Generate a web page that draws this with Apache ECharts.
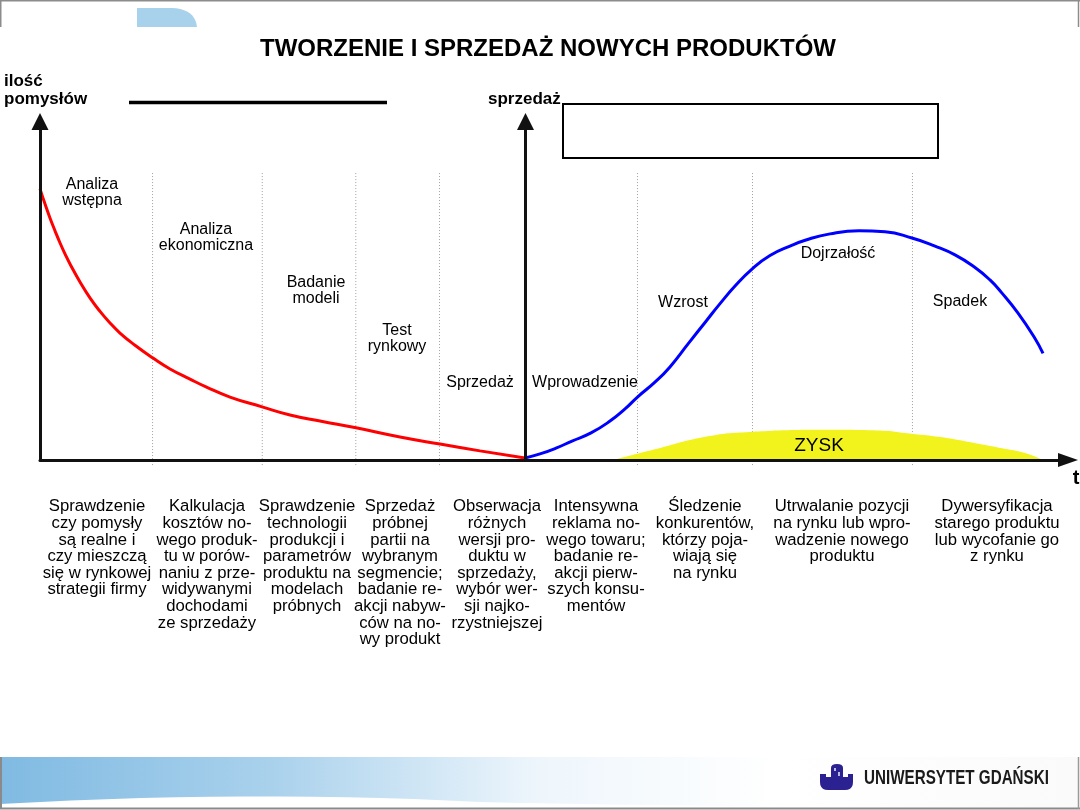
<!DOCTYPE html>
<html><head><meta charset="utf-8">
<script src="https://cdn.jsdelivr.net/npm/echarts@6/dist/echarts.min.js"></script>
<style>html,body{margin:0;padding:0;background:#fff}#c{width:1080px;height:810px}</style>
</head><body><div id="c"></div>
<script>
// ---- data (time t on x, quantity on y, both in 0..100 units) ----
const ideaCurve = [[0,80.1],[0.49,75.6],[0.97,71.5],[1.46,67.7],[1.95,64.1],[2.43,60.9],[2.92,57.9],[3.89,52.6],[4.86,47.9],[5.84,43.9],[6.81,40.5],[7.78,37.5],[9.24,33.9],[11.0,30.1],[12.65,26.9],[14.59,23.9],[16.15,21.6],[18.48,18.6],[21.6,15.7],[24.32,13.3],[27.24,11.5],[30.74,9.5],[35.02,6.8],[38.91,4.7],[42.8,2.7],[47.18,0.6]];
const salesCurve = [[47.18,0.6],[48.64,1.8],[50.19,3.5],[51.75,5.6],[53.6,8.0],[55.45,11.5],[56.91,15.1],[58.12,18.6],[59.82,23.0],[61.28,27.5],[63.04,34.3],[64.79,41.0],[66.15,46.2],[67.61,51.4],[69.26,56.4],[71.01,60.4],[72.96,63.2],[74.51,65.0],[76.85,66.8],[79.67,67.7],[82.2,67.4],[84.82,65.6],[87.06,63.2],[89.01,60.6],[90.86,57.1],[92.41,53.2],[93.58,49.3],[95.14,43.4],[96.69,36.4],[97.57,31.5]];
const profitArea = [[55.74,0],[58.37,2.1],[60.6,3.8],[63.23,5.9],[65.76,7.4],[68.09,8.1],[71.01,8.6],[76.17,8.9],[81.42,8.7],[84.92,7.7],[87.55,6.8],[90.08,5.5],[93.58,3.5],[95.82,2.1],[97.37,0.3]];
const phaseBounds = [10.95,21.62,30.72,38.86,58.12,69.31,84.87];
const phaseLabels = ['Analiza\nwstępna','Analiza\nekonomiczna','Badanie\nmodeli','Test\nrynkowy','Sprzedaż','Wprowadzenie','Wzrost','Dojrzałość','Spadek'];
const activities = [
  ['Sprawdzenie','czy pomysły','są realne i','czy mieszczą','się w rynkowej','strategii firmy'],
  ['Kalkulacja','kosztów no-','wego produk-','tu w porów-','naniu z prze-','widywanymi','dochodami','ze sprzedaży'],
  ['Sprawdzenie','technologii','produkcji i','parametrów','produktu na','modelach','próbnych'],
  ['Sprzedaż','próbnej','partii na','wybranym','segmencie;','badanie re-','akcji nabyw-','ców na no-','wy produkt'],
  ['Obserwacja','różnych','wersji pro-','duktu w','sprzedaży,','wybór wer-','sji najko-','rzystniejszej'],
  ['Intensywna','reklama no-','wego towaru;','badanie re-','akcji pierw-','szych konsu-','mentów'],
  ['Śledzenie','konkurentów,','którzy poja-','wiają się','na rynku'],
  ['Utrwalanie pozycji','na rynku lub wpro-','wadzenie nowego','produktu'],
  ['Dywersyfikacja','starego produktu','lub wycofanie go','z rynku']
];
const titleText = 'TWORZENIE I SPRZEDAŻ NOWYCH PRODUKTÓW';
const leftAxisName = 'ilość\npomysłów';
const rightAxisName = 'sprzedaż';
const timeAxisName = 't';
const profitName = 'ZYSK';
const logoText = 'UNIWERSYTET GDAŃSKI';

// ---- layout ----
const FF = '"Liberation Sans", Arial, sans-serif';
const phasePos = [[92,176.5],[206,222],[316,275],[397,323],[480,375],[585,375],[683,295],[838,246],[960,294]];
const actX = [97,207,307,400,497,596,705,842,997];

function quad(p0,p1,p2,n){
  const out=[];
  for(let i=0;i<=n;i++){const t=i/n,a=(1-t)*(1-t),b=2*(1-t)*t,c=t*t;out.push([a*p0[0]+b*p1[0]+c*p2[0],a*p0[1]+b*p1[1]+c*p2[1]]);}
  return out;
}

const chart = echarts.init(document.getElementById('c'), null, {renderer:'canvas'});
const axisLineStyle = {color:'#111', width:3};
function yAx(offset){
  return {type:'value', min:0, max:100, position:'left', offset:offset,
    axisLine:{show:true, onZero:false, lineStyle:axisLineStyle, symbol:['none','triangle'], symbolSize:[17,17]},
    axisTick:{show:false}, axisLabel:{show:false}, splitLine:{show:false}, z:10};
}
const series = [
  {type:'line', data:profitArea, smooth:0.5, symbol:'none', lineStyle:{width:0}, areaStyle:{color:'#f2f21c', opacity:1}, z:1, silent:true},
  {type:'line', data:ideaCurve, smooth:0.5, symbol:'none', lineStyle:{color:'#ff0000', width:3}, z:3, clip:false},
  {type:'line', data:salesCurve, smooth:0.5, symbol:'none', lineStyle:{color:'#0000ff', width:3}, z:3, clip:false}
];
phaseBounds.forEach(function(b){
  series.push({type:'line', data:[[b,-1.5],[b,84.8]], symbol:'none', clip:false, silent:true, z:0,
    lineStyle:{color:'#a0a0a0', width:1, type:[1,2]}});
});

const graphic = [];
function txt(x,y,text,font,align,va,lh){
  graphic.push({type:'text', x:x, y:y, silent:true, z:100, style:{text:text, font:font, fill:'#000', align:align, textAlign:align, verticalAlign:va, textVerticalAlign:va, lineHeight:lh}});
}
function ln(x1,y1,x2,y2,color,w){ graphic.push({type:'line', silent:true, shape:{x1:x1,y1:y1,x2:x2,y2:y2}, style:{stroke:color, lineWidth:w}}); }
function poly(points,fill){ graphic.push({type:'polygon', silent:true, shape:{points:points}, style:{fill:fill}}); }

// header frame
ln(0,0.75,1080,0.75,'#8c8c8c',1.5);
ln(0.75,0,0.75,27,'#8c8c8c',1.5);
ln(1078.5,0,1078.5,27,'#8c8c8c',1.5);
poly([[137,27],[137,8]].concat(quad([172,8],[195,9],[197,27],10)),'#a8d1ec');
// footer band
graphic.push({type:'rect', silent:true, shape:{x:0,y:757,width:1080,height:51},
  style:{fill:{type:'linear',x:0,y:0,x2:1,y2:0,colorStops:[{offset:0,color:'#80bae2'},{offset:0.25,color:'#a9d1ec'},{offset:0.5,color:'#eef6fc'},{offset:0.72,color:'#ffffff'},{offset:1,color:'#fafafa'}]}}});
poly([[0,808],[0,804]].concat(quad([0,804],[250,790],[480,802],14)).concat(quad([480,802],[650,806],[820,806],8)).concat([[820,808]]),'#ffffff');
ln(0,808.5,1080,808.5,'#8a8a8a',2);
ln(1,757,1,809,'#8a8a8a',2);
ln(1078.5,757,1078.5,809,'#9a9a9a',1.5);
// logo
poly([[820,774],[826,774],[826,777],[848,777],[848,774],[853,774]].concat(quad([853,782],[853,790],[845,790],5)).concat(quad([828,790],[820,790],[820,782],5)),'#2b2190');
poly([[831,778]].concat(quad([831,768],[831,764],[837,764],4)).concat(quad([837,764],[843,764],[843,768],4)).concat([[843,778]]),'#2b2190');
graphic.push({type:'rect', silent:true, shape:{x:834,y:768,width:2,height:3}, style:{fill:'#b8b8e0'}});
graphic.push({type:'rect', silent:true, shape:{x:838,y:772,width:2,height:4}, style:{fill:'#b8b8e0'}});
graphic.push({type:'text', x:864, y:778, scaleX:0.76, scaleY:1.0, originX:0, originY:0, silent:true, z:100,
  style:{text:logoText, font:'bold 20px '+FF, fill:'#1a1a1a', align:'left', textAlign:'left', verticalAlign:'middle', textVerticalAlign:'middle'}});
// title & axis names
txt(548,49,titleText,'bold 24px '+FF,'center','middle',26);
txt(4,72,leftAxisName,'bold 17px '+FF,'left','top',18);
txt(488,99,rightAxisName,'bold 17px '+FF,'left','middle',18);
txt(1076,478,timeAxisName,'bold 20px '+FF,'center','middle',20);
// top decorations
ln(129,102.5,387,102.5,'#000',3.5);
graphic.push({type:'rect', silent:true, shape:{x:563,y:104,width:375,height:54}, style:{fill:'none', stroke:'#000', lineWidth:2}});
// phase labels
phaseLabels.forEach(function(l,i){ txt(phasePos[i][0], phasePos[i][1], l, '16px '+FF, 'center', 'top', 16); });
txt(819,446,profitName,'19px '+FF,'center','middle',20);
// activity descriptions
activities.forEach(function(lines,i){ txt(actX[i], 498.5, lines.join('\n'), '16.7px '+FF, 'center', 'top', 16.6); });

chart.setOption({
  animation:false,
  backgroundColor:'#ffffff',
  grid:{left:40, right:12, top:121.5, bottom:350},
  xAxis:{type:'value', min:0, max:100, axisLine:{show:true, onZero:true, lineStyle:axisLineStyle, symbol:['none','triangle'], symbolSize:[14,20]}, axisTick:{show:false}, axisLabel:{show:false}, splitLine:{show:false}, z:10},
  yAxis:[yAx(0), yAx(-485.5)],
  series:series,
  graphic:graphic
});
</script></body></html>
